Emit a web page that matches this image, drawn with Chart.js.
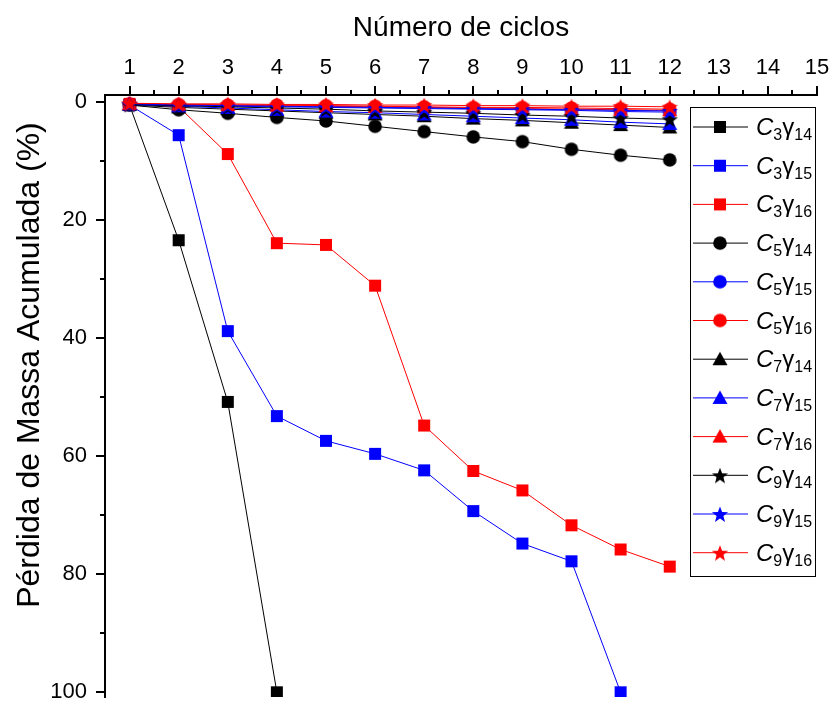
<!DOCTYPE html>
<html>
<head>
<meta charset="utf-8">
<script src="https://cdn.jsdelivr.net/npm/chart.js@4"></script>
<style>
  html, body { margin: 0; padding: 0; background: #fff; }
  #wrap { width: 833px; height: 702px; position: relative; }
</style>
</head>
<body>
<div id="wrap"><canvas id="chart"></canvas></div>
<script>
// DATA
const ciclos = [1, 2, 3, 4, 5, 6, 7, 8, 9, 10, 11, 12];
const xTicks = [1, 2, 3, 4, 5, 6, 7, 8, 9, 10, 11, 12, 13, 14, 15];
const yTicks = [0, 20, 40, 60, 80, 100];

const c3g14 = [0.5, 23.4, 50.8, 100];
const c3g15 = [0.5, 5.6, 38.8, 53.2, 57.4, 59.6, 62.4, 69.3, 74.8, 77.8, 100];
const c3g16 = [0.3, 0.8, 8.8, 23.9, 24.2, 31.1, 54.8, 62.5, 65.8, 71.7, 75.8, 78.7];
const c5g14 = [0.5, 1.3, 1.9, 2.6, 3.2, 4.1, 5.0, 5.9, 6.7, 8.0, 9.0, 9.8];
const c5g15 = [0.4, 0.6, 0.7, 0.8, 0.9, 1.0, 1.1, 1.2, 1.3, 1.4, 1.6, 1.7];
const c5g16 = [0.3, 0.4, 0.5, 0.5, 0.6, 0.7, 0.8, 0.9, 0.9, 1.0, 1.1, 1.2];
const c7g14 = [0.5, 0.9, 1.2, 1.5, 1.8, 2.1, 2.4, 2.8, 3.1, 3.5, 3.9, 4.3];
const c7g15 = [0.4, 0.7, 1.0, 1.3, 1.6, 1.8, 2.1, 2.4, 2.7, 3.0, 3.4, 3.7];
const c7g16 = [0.3, 0.4, 0.5, 0.6, 0.7, 0.8, 0.9, 1.0, 1.1, 1.2, 1.3, 1.4];
const c9g14 = [0.4, 0.6, 0.8, 1.0, 1.2, 1.5, 1.7, 1.9, 2.2, 2.4, 2.7, 2.9];
const c9g15 = [0.3, 0.5, 0.6, 0.7, 0.8, 0.9, 1.0, 1.1, 1.2, 1.3, 1.4, 1.5];
const c9g16 = [0.2, 0.3, 0.3, 0.4, 0.4, 0.5, 0.5, 0.6, 0.6, 0.7, 0.7, 0.8];

const FONT = "'Liberation Sans', Arial, Helvetica, sans-serif";

// marker images
function makeMarker(shape, color) {
    const s = 20;
    const c = document.createElement('canvas');
    c.width = s; c.height = s;
    const g = c.getContext('2d');
    g.fillStyle = color;
    const m = s / 2;
    g.beginPath();
    if (shape === 'rect') {
        g.rect(m - 6, m - 6, 12, 12);
    } else if (shape === 'circle') {
        g.arc(m, m, 6.8, 0, Math.PI * 2);
    } else if (shape === 'triangle') {
        g.moveTo(m, m - 7.5);
        g.lineTo(m + 7.5, m + 6);
        g.lineTo(m - 7.5, m + 6);
        g.closePath();
    } else {
        for (let i = 0; i < 10; i++) {
            const r = i % 2 === 0 ? 8.5 : 3.6;
            const a = -Math.PI / 2 + i * Math.PI / 5;
            const px = m + r * Math.cos(a), py = m + 1 + r * Math.sin(a);
            if (i === 0) g.moveTo(px, py); else g.lineTo(px, py);
        }
        g.closePath();
    }
    g.fill();
    return c;
}

const series = [
    { c: '3', g: '14', data: c3g14, shape: 'rect', color: '#000000' },
    { c: '3', g: '15', data: c3g15, shape: 'rect', color: '#0000ff' },
    { c: '3', g: '16', data: c3g16, shape: 'rect', color: '#ff0000' },
    { c: '5', g: '14', data: c5g14, shape: 'circle', color: '#000000' },
    { c: '5', g: '15', data: c5g15, shape: 'circle', color: '#0000ff' },
    { c: '5', g: '16', data: c5g16, shape: 'circle', color: '#ff0000' },
    { c: '7', g: '14', data: c7g14, shape: 'triangle', color: '#000000' },
    { c: '7', g: '15', data: c7g15, shape: 'triangle', color: '#0000ff' },
    { c: '7', g: '16', data: c7g16, shape: 'triangle', color: '#ff0000' },
    { c: '9', g: '14', data: c9g14, shape: 'star', color: '#000000' },
    { c: '9', g: '15', data: c9g15, shape: 'star', color: '#0000ff' },
    { c: '9', g: '16', data: c9g16, shape: 'star', color: '#ff0000' }
];
series.forEach(s => s.img = makeMarker(s.shape, s.color));

const datasets = series.map((s, i) => ({
    label: 'C' + s.c + 'γ' + s.g,
    data: s.data.map((v, k) => ({ x: ciclos[k], y: v })),
    borderColor: s.color,
    backgroundColor: s.color,
    borderWidth: 1,
    pointStyle: s.img,
    order: 11 - i
}));

// ticks: major outward, minor halfway; y title drawn here too
const ticksPlugin = {
    id: 'ticks',
    afterDraw(chart) {
        const ctx = chart.ctx;
        const xs = chart.scales.x, ys = chart.scales.y;
        const area = chart.chartArea;
        ctx.save();
        ctx.strokeStyle = '#000';
        ctx.lineWidth = 2;
        ctx.beginPath();
        xTicks.forEach(v => {
            const px = Math.round(xs.getPixelForValue(v));
            ctx.moveTo(px, area.top); ctx.lineTo(px, area.top - 9);
            if (v < 15) {
                const pm = Math.round(xs.getPixelForValue(v + 0.5));
                ctx.moveTo(pm, area.top); ctx.lineTo(pm, area.top - 5);
            }
        });
        yTicks.forEach(v => {
            const py = Math.round(ys.getPixelForValue(v));
            ctx.moveTo(area.left, py); ctx.lineTo(area.left - 9, py);
            if (v < 100) {
                const pm = Math.round(ys.getPixelForValue(v + 10));
                ctx.moveTo(area.left, pm); ctx.lineTo(area.left - 5, pm);
            }
        });
        ctx.stroke();

        ctx.translate(30, 365);
        ctx.rotate(-Math.PI / 2);
        ctx.fillStyle = '#000';
        ctx.font = '32px ' + FONT;
        ctx.textAlign = 'center';
        ctx.textBaseline = 'middle';
        ctx.fillText('Pérdida de Massa Acumulada (%)', 0, 0);
        ctx.restore();
    }
};

// legend with subscripts
const legendPlugin = {
    id: 'subLegend',
    afterDraw(chart) {
        const ctx = chart.ctx;
        const bx = 690, by = 107, bw = 125, bh = 469;
        ctx.save();
        ctx.fillStyle = '#fff';
        ctx.fillRect(bx, by, bw, bh);
        ctx.strokeStyle = '#000';
        ctx.lineWidth = 1;
        ctx.strokeRect(bx + 0.5, by + 0.5, bw, bh);
        series.forEach((s, i) => {
            const y = 127 + i * 38.7;
            ctx.strokeStyle = s.color;
            ctx.beginPath();
            ctx.moveTo(693, y); ctx.lineTo(748, y);
            ctx.stroke();
            ctx.drawImage(s.img, 720 - s.img.width / 2, y - s.img.height / 2);
            ctx.fillStyle = '#000';
            ctx.textBaseline = 'alphabetic';
            let x = 756;
            const base = y + 8;
            ctx.font = 'italic 24px ' + FONT;
            ctx.fillText('C', x, base);
            x += ctx.measureText('C').width;
            ctx.font = '16px ' + FONT;
            ctx.fillText(s.c, x, base + 5);
            x += ctx.measureText(s.c).width;
            ctx.font = '24px ' + FONT;
            ctx.fillText('γ', x, base);
            x += ctx.measureText('γ').width;
            ctx.font = '16px ' + FONT;
            ctx.fillText(s.g, x, base + 5);
        });
        ctx.restore();
    }
};

new Chart(document.getElementById('chart'), {
    type: 'line',
    data: { datasets: datasets },
    options: {
        responsive: true,
        maintainAspectRatio: false,
        animation: false,
        layout: { padding: { top: 0, right: 16, bottom: 0, left: 0 } },
        plugins: {
            legend: { display: false },
            tooltip: { enabled: false }
        },
        scales: {
            x: {
                type: 'linear',
                position: 'top',
                min: 0.5,
                max: 15,
                afterBuildTicks: scale => { scale.ticks = xTicks.map(v => ({ value: v })); },
                afterFit: scale => {
                    scale.height = 95;
                    scale.paddingLeft = 0;
                    scale.paddingRight = 0;
                },
                ticks: {
                    color: '#000',
                    font: { family: FONT, size: 22 },
                    padding: 6,
                    maxRotation: 0,
                    autoSkip: false
                },
                grid: { display: false },
                border: { display: true, color: '#000', width: 2 },
                title: {
                    display: true,
                    text: 'Número de ciclos',
                    color: '#000',
                    font: { family: FONT, size: 28 },
                    padding: { top: 11, bottom: 0 }
                }
            },
            y: {
                type: 'linear',
                reverse: true,
                min: -1.2,
                max: 100.8,
                afterBuildTicks: scale => { scale.ticks = yTicks.map(v => ({ value: v })); },
                afterFit: scale => {
                    scale.width = 105;
                    scale.paddingTop = 0;
                    scale.paddingBottom = 0;
                },
                ticks: {
                    color: '#000',
                    font: { family: FONT, size: 22 },
                    padding: 10
                },
                grid: { display: false },
                border: { display: true, color: '#000', width: 2 },
                title: { display: false }
            }
        }
    },
    plugins: [ticksPlugin, legendPlugin]
});
</script>
</body>
</html>
